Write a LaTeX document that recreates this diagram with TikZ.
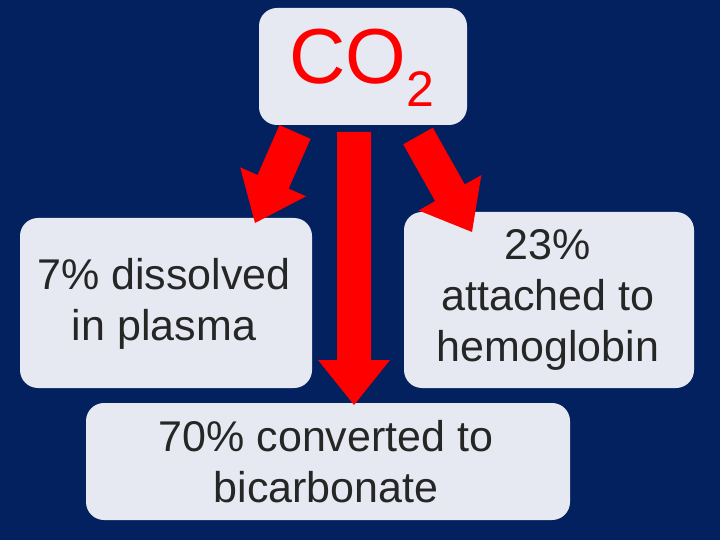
\documentclass[tikz,border=0pt]{standalone}
\usepackage{fontspec}
\setmainfont{Liberation Sans}
\usetikzlibrary{calc}
\definecolor{navy}{HTML}{03215F}
\definecolor{boxfill}{HTML}{E6E9F1}
\definecolor{redarr}{HTML}{FF0000}
\tikzset{
  box/.style={fill=boxfill, rounded corners=18pt, draw=none},
  txt/.style={align=center, font=\fontsize{43}{51}\selectfont, text=black!85},
}
\newcommand{\blockarr}[3]{% start, end, name
  \coordinate (#3s) at #1; \coordinate (#3e) at #2;
  \coordinate (#3h) at ($(#3e)!45pt!(#3s)$);
  \fill[redarr] ($(#3s)!17pt!90:(#3e)$) -- ($(#3h)!17pt!-90:(#3s)$) -- ($(#3h)!36pt!-90:(#3s)$)
    -- (#3e) -- ($(#3h)!36pt!90:(#3s)$) -- ($(#3h)!17pt!90:(#3s)$) -- ($(#3s)!17pt!-90:(#3e)$) -- cycle;
}
\begin{document}
\begin{tikzpicture}[x=1pt,y=-1pt]
\fill[navy] (0,0) rectangle (720,540);
\useasboundingbox (0,0) rectangle (720,540);
\fill[box] (259,8) rectangle (467,125);
\node[inner sep=0, text=redarr, font=\fontsize{78}{80}\selectfont] (co2) at (362,68) {CO\raisebox{-0.3em}{\fontsize{50}{52}\selectfont 2}};
\fill[box] (20,218) rectangle (312,388);
\node[txt] (dis) at (164,304) {7\% dissolved\\in plasma};
\fill[box] (404,212) rectangle (694,388);
\node[txt] (hem) at (548,300) {23\%\\attached to\\hemoglobin};
\fill[box] (86,403) rectangle (570,520);
\node[txt] (bic) at (326,462) {70\% converted to\\bicarbonate};
\blockarr{(295,132)}{(255,223)}{a}
\blockarr{(354,132)}{(354,405)}{b}
\blockarr{(418,136)}{(472,232)}{c}
\end{tikzpicture}
\end{document}
